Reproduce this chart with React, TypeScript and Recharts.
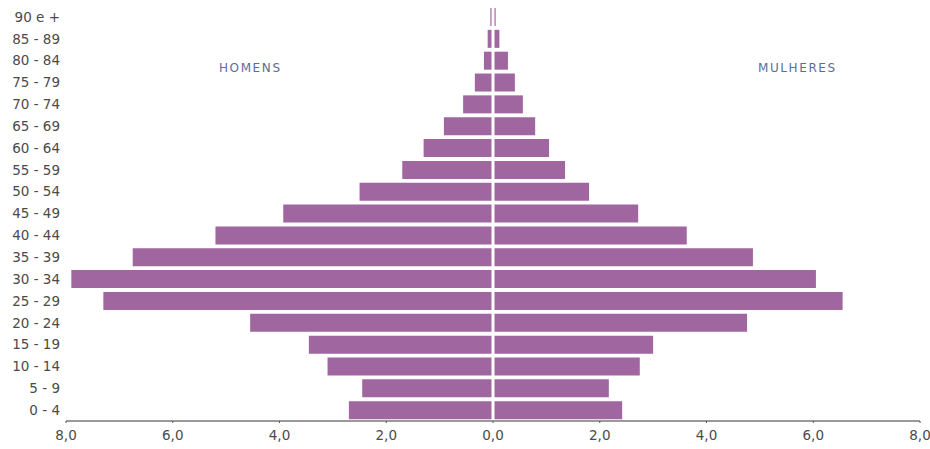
import { BarChart, Bar, XAxis, YAxis, ReferenceLine } from "recharts";

// age groups, youngest first (drawn bottom-up)
const AGE_GROUPS = [
  "0 - 4", "5 - 9", "10 - 14", "15 - 19", "20 - 24", "25 - 29", "30 - 34",
  "35 - 39", "40 - 44", "45 - 49", "50 - 54", "55 - 59", "60 - 64",
  "65 - 69", "70 - 74", "75 - 79", "80 - 84", "85 - 89", "90 e +",
];

// % of population
const MEN = [
  2.7, 2.45, 3.1, 3.45, 4.55, 7.3, 7.9, 6.75, 5.2, 3.93,
  2.5, 1.7, 1.3, 0.92, 0.56, 0.34, 0.17, 0.1, 0.05,
];
const WOMEN = [
  2.42, 2.17, 2.75, 3.0, 4.76, 6.55, 6.05, 4.87, 3.63, 2.72,
  1.8, 1.35, 1.05, 0.79, 0.56, 0.41, 0.28, 0.12, 0.05,
];

const X_TICKS = [-8, -6, -4, -2, 0, 2, 4, 6, 8];

const PURPLE = "#a066a0";
const LABEL_BLUE = "#5c6c9c";
const FONT = "'DejaVu Sans', sans-serif";

const data = AGE_GROUPS.map((age, i) => ({
  age,
  men: -MEN[i],
  women: WOMEN[i],
}));

const fmt = (v: number) => Math.abs(v).toFixed(1).replace(".", ",");

const sideLabel = (left: number, text: string) => (
  <div
    style={{
      position: "absolute",
      left,
      top: 61,
      fontFamily: FONT,
      fontSize: 12,
      color: LABEL_BLUE,
      letterSpacing: 1.6,
    }}
  >
    {text}
  </div>
);

export default function App() {
  return (
    <div style={{ position: "absolute", left: 0, top: 0, width: 930, height: 449, background: "#fff" }}>
      <BarChart
        width={930}
        height={449}
        data={data}
        layout="vertical"
        stackOffset="sign"
        barCategoryGap={2}
        margin={{ top: 6, right: 10, bottom: 0, left: 0 }}
      >
        <XAxis
          type="number"
          domain={[-8, 8]}
          ticks={X_TICKS}
          tickFormatter={fmt}
          axisLine={{ stroke: "#9a9a9a", strokeWidth: 2 }}
          tickLine={{ stroke: "#555" }}
          tickSize={2}
          tickMargin={7}
          height={28}
          tick={{ fontSize: 13.5, fill: "#4a4a4a", fontFamily: FONT }}
        />
        <YAxis
          type="category"
          dataKey="age"
          reversed
          width={66}
          axisLine={false}
          tickLine={false}
          tickSize={0}
          tickMargin={6}
          interval={0}
          tick={{ fontSize: 13.5, fill: "#4a4a4a", fontFamily: FONT }}
        />
        <Bar dataKey="men" stackId="a" fill={PURPLE} isAnimationActive={false} />
        <Bar dataKey="women" stackId="a" fill={PURPLE} isAnimationActive={false} />
        <ReferenceLine x={0} stroke="#fff" strokeWidth={3} />
      </BarChart>
      {sideLabel(219, "HOMENS")}
      {sideLabel(758, "MULHERES")}
    </div>
  );
}
